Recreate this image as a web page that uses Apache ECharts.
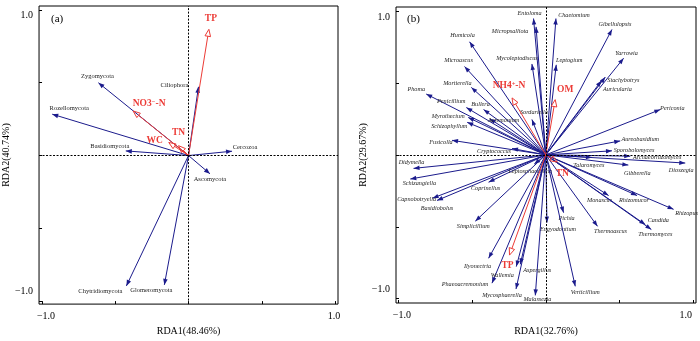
<!DOCTYPE html>
<html><head><meta charset="utf-8">
<script src="https://cdn.jsdelivr.net/npm/echarts@6/dist/echarts.min.js"></script>
<style>html,body{margin:0;padding:0;background:#fff}#c{width:700px;height:341px}</style>
</head><body><div id="c"></div>
<script>
// ---------- Panel (a) data ----------
const phylaA = ['Zygomycota','Rozellomycota','Basidiomycota','Ciliophora','Cercozoa','Ascomycota','Chytridiomycota','Glomeromycota'];
const phylaA_RDA1 = [-0.615,-0.93,-0.428,0.068,0.297,0.146,-0.424,-0.165];
const phylaA_RDA2 = [0.50,0.284,0.032,0.472,0.03,-0.125,-0.895,-0.888];
const envA = ['TP','NO3⁻-N','WC','TN'];
const envA_RDA1 = [0.139,-0.378,-0.135,-0.068];
const envA_RDA2 = [0.867,0.306,0.09,0.068];
const axisA = {x:'RDA1(48.46%)', y:'RDA2(40.74%)', tag:'(a)'};

// ---------- Panel (b) data ----------
const generaB = ['Entoloma','Micropsalliota','Chaetomium','Gibellulopsis','Yarrowia','Stachybotrys','Auricularia','Periconia','Leptogium','Mycoleptodiscus','Humicola','Microascus','Mortierella','Phoma','Penicillium','Bullera','Myrothecium','Schizophyllum','Acremonium','Sordariella','Fusicolla','Cryptococcus','Aureobasidium','Sporobolomyces','Archaeorhizomyces','Dioszegia','Talaromyces','Gibberella','Didymella','Schizangiella','Capnobotryella','Basidiobolus','Coprinellus','Leptosphaerulina','Monascus','Rhizomucor','Rhizopus','Candida','Thermomyces','Thermoascus','Pichia','Engyodontium','Simplicillium','Ilyonectria','Phaeoacremonium','Mycosphaerella','Malassezia','Verticillium','Aspergillus','Wallemia'];
const generaB_RDA1 = [-0.083,-0.066,0.069,0.449,0.528,0.404,0.377,0.777,0.071,-0.094,-0.517,-0.551,-0.505,-0.811,-0.539,-0.422,-0.526,-0.533,-0.381,-0.094,-0.636,-0.229,0.505,0.449,0.573,0.946,0.313,0.56,-0.897,-0.919,-0.768,-0.738,-0.388,-0.078,0.426,0.619,0.867,0.675,0.716,0.351,0.121,0.008,-0.478,-0.388,-0.365,-0.202,-0.071,0.2,-0.173,-0.2];
const generaB_RDA2 = [0.948,0.89,0.948,0.872,0.672,0.541,0.515,0.315,0.626,0.632,0.786,0.614,0.469,0.423,0.329,0.315,0.26,0.226,0.251,0.246,0.101,0.044,0.097,0.028,-0.009,-0.057,-0.018,-0.071,-0.094,-0.168,-0.301,-0.317,-0.19,-0.064,-0.283,-0.283,-0.379,-0.485,-0.519,-0.497,-0.402,-0.471,-0.461,-0.719,-0.892,-0.933,-0.977,-0.914,-0.761,-0.777];
const envB = ['NH4⁺-N','OM','TN','TP'];
const envB_RDA1 = [-0.229,0.064,0.078,-0.246];
const envB_RDA2 = [0.396,0.384,-0.05,-0.697];
const axisB = {x:'RDA1(32.76%)', y:'RDA2(29.67%)', tag:'(b)'};

const tickValues = [-1,-0.5,0,0.5,1];
const labelValues = [-1,1];

// ---------- label placement (pixel offsets from arrow tip) ----------
const offA = {Zygomycota:[-1,-6],Rozellomycota:[17,-6],Basidiomycota:[-16,-5],Ciliophora:[-24,-2],Cercozoa:[13,-4],Ascomycota:[0,6],Chytridiomycota:[-26,5],Glomeromycota:[-13,5],
  'TP':[2,-11],'NO3⁻-N':[16,-7],'WC':[-14,-2],'TN':[0,-13]};
const offB = {Entoloma:[-4,-5],Micropsalliota:[-26,5],Chaetomium:[18,-3],Gibellulopsis:[3,-5],Yarrowia:[3,-5],Stachybotrys:[18,3],Auricularia:[16,9],Periconia:[12,-1],Leptogium:[13,-4],Mycoleptodiscus:[-15,-6],Humicola:[-7,-6],Microascus:[-6,-6],Mortierella:[-14,-4],Phoma:[-10,-5],Penicillium:[-15,-6],Bullera:[-3,-5],Myrothecium:[-20,-1],Schizophyllum:[-18,4],Acremonium:[14,2],Sordariella:[2,-7],Fusicolla:[-11,2],Cryptococcus:[-18,3],Aureobasidium:[20,-2],Sporobolomyces:[22,0],Archaeorhizomyces:[27,1],Dioszegia:[-4,7],Talaromyces:[-3,8],Gibberella:[9,8],Didymella:[-2,-6],Schizangiella:[9,4],Capnobotryella:[-16,1],Basidiobolus:[0,8],Coprinellus:[-3,6],Leptosphaerulina:[-4,7],Monascus:[-9,5],Rhizomucor:[-3,5],Rhizopus:[13,4],Candida:[13,-4],Thermomyces:[4,5],Thermoascus:[13,5],Pichia:[3,6],Engyodontium:[11,7],Simplicillium:[-2,5],Ilyonectria:[-11,8],Phaeoacremonium:[-27,1],Mycosphaerella:[-14,6],Malassezia:[2,4],Verticillium:[10,6],Aspergillus:[17,6],Wallemia:[-14,9],
  'NH4⁺-N':[-3,-12],'OM':[10,-10],'TN':[5,11],'TP':[-2,10]};

const SERIF = 'Liberation Serif';
const BLUE = '#1b1b8c';
const RED = '#ec3b36';

function envText(name){
  const parts = name.split(/([⁺⁻])/).filter(s=>s.length);
  return parts.map(s => s==='⁺' ? '{s|+}' : s==='⁻' ? '{s|−}' : '{m|'+s+'}').join('');
}

function arrowSeries(gi, names, xs, ys, offsets, o){
  return {
    type:'custom', xAxisIndex:gi, yAxisIndex:gi, silent:true, clip:false, z:o.z,
    data: names.map((n,i)=>[xs[i], ys[i]]),
    encode:{x:0,y:1},
    renderItem(params, api){
      const s = api.coord([0,0]);
      const p = api.coord([api.value(0), api.value(1)]);
      const name = names[params.dataIndex];
      const dx=p[0]-s[0], dy=p[1]-s[1];
      const len=Math.hypot(dx,dy)||1, ux=dx/len, uy=dy/len;
      const bx=p[0]-ux*o.headLen, by=p[1]-uy*o.headLen;
      const nx=-uy, ny=ux;
      const off = offsets[name]||[0,0];
      const textStyle = o.env ? {
          text: envText(name), align:'center', verticalAlign:'middle',
          rich:{ m:{fontFamily:SERIF,fontSize:9.5,fontWeight:'bold',fill:RED},
                 s:{fontFamily:SERIF,fontSize:6.5,fontWeight:'bold',fill:RED,verticalAlign:'top'} }
        } : {
          text: name, align:'center', verticalAlign:'middle',
          fontFamily:SERIF, fontSize:o.fs, fontStyle:o.italic?'italic':'normal', fill:'#222'
        };
      return {type:'group', children:[
        {type:'line', shape:{x1:s[0],y1:s[1],x2:o.hollow?bx:p[0],y2:o.hollow?by:p[1]}, style:{stroke:o.color,lineWidth:o.lw}},
        {type:'polygon', shape:{points:[[p[0],p[1]],[bx+nx*o.headW,by+ny*o.headW],[bx-nx*o.headW,by-ny*o.headW]]},
          style: o.hollow ? {fill:'rgba(255,255,255,0)',stroke:o.color,lineWidth:1} : {fill:o.color}},
        {type:'text', x:p[0]+off[0], y:p[1]+off[1], style:textStyle}
      ]};
    }
  };
}

function zeroLines(gi){
  return {type:'scatter', xAxisIndex:gi, yAxisIndex:gi, data:[[0,0]], symbolSize:0, silent:true, z:1,
    markLine:{silent:true, symbol:'none', label:{show:false},
      lineStyle:{color:'#000', width:1, type:[2,1.5]},
      data:[{xAxis:0},{yAxis:0}]}};
}

function xAxis(gi, min, max, name, gap, rich){
  return {type:'value', gridIndex:gi, min, max, name, nameLocation:'middle', nameGap:gap,
    nameTextStyle:{fontFamily:SERIF, fontSize:10, color:'#000'},
    axisLine:{show:false, onZero:false}, splitLine:{show:false},
    axisTick:{show:true, inside:true, length:3, lineStyle:{color:'#000'}, customValues:tickValues},
    axisLabel:{show:true, customValues:labelValues, margin:7, fontFamily:SERIF, fontSize:10, color:'#000',
      formatter:v=> v<0 ? '{n|−1.0}' : '{p|1.0}', rich:rich}};
}
function yAxis(gi, min, max, name, gap, rich){
  return {type:'value', gridIndex:gi, min, max, name, nameLocation:'middle', nameGap:gap,
    nameTextStyle:{fontFamily:SERIF, fontSize:10, color:'#000'},
    axisLine:{show:false, onZero:false}, splitLine:{show:false},
    axisTick:{show:true, inside:true, length:3, lineStyle:{color:'#000'}, customValues:tickValues},
    axisLabel:{show:true, customValues:labelValues, margin:6, fontFamily:SERIF, fontSize:10, color:'#000',
      formatter:v=> v<0 ? '{n|−1.0}' : '{p|1.0}', rich:rich}};
}
const rf = (pad)=>({fontFamily:SERIF,fontSize:10,color:'#000',padding:pad});

const chart = echarts.init(document.getElementById('c'), null, {renderer:'canvas'});
chart.setOption({
  backgroundColor:'#fff',
  animation:false,
  title:[
    {text:axisA.tag, left:51, top:14, padding:0, textStyle:{fontFamily:SERIF,fontSize:11,fontWeight:'normal',color:'#000'}},
    {text:axisB.tag, left:407, top:14, padding:0, textStyle:{fontFamily:SERIF,fontSize:11,fontWeight:'normal',color:'#000'}}
  ],
  grid:[
    {left:36, top:6, width:302, height:301, show:true, borderColor:'#000', borderWidth:1, backgroundColor:'rgba(0,0,0,0)'},
    {left:396, top:7, width:300, height:298, show:true, borderColor:'#000', borderWidth:1, backgroundColor:'rgba(0,0,0,0)'}
  ],
  xAxis:[
    xAxis(0,-1.02,1.02,axisA.x,21,{n:rf([0,0,0,8]),p:rf([0,2,0,0])}),
    xAxis(1,-1.016,1.019,axisB.x,23,{n:rf([0,0,0,7]),p:rf([0,15,0,0])})
  ],
  yAxis:[
    yAxis(0,-1.02,1.027,axisA.y,22,{n:rf([0,0,19,0]),p:rf([10,0,0,0])}),
    yAxis(1,-1.03,1.028,axisB.y,20,{n:rf([0,0,18,0]),p:rf([13,0,0,0])})
  ],
  series:[
    zeroLines(0), zeroLines(1),
    arrowSeries(0, phylaA, phylaA_RDA1, phylaA_RDA2, offA, {color:BLUE, lw:1, headLen:6, headW:2.3, fs:6.5, italic:false, z:3}),
    arrowSeries(0, envA, envA_RDA1, envA_RDA2, offA, {color:RED, lw:1, headLen:7, headW:2.8, env:true, hollow:true, z:4}),
    arrowSeries(1, generaB, generaB_RDA1, generaB_RDA2, offB, {color:BLUE, lw:1, headLen:6, headW:2.2, fs:6.2, italic:true, z:3}),
    arrowSeries(1, envB, envB_RDA1, envB_RDA2, offB, {color:RED, lw:1, headLen:7, headW:2.8, env:true, hollow:true, z:4})
  ]
});
</script></body></html>
